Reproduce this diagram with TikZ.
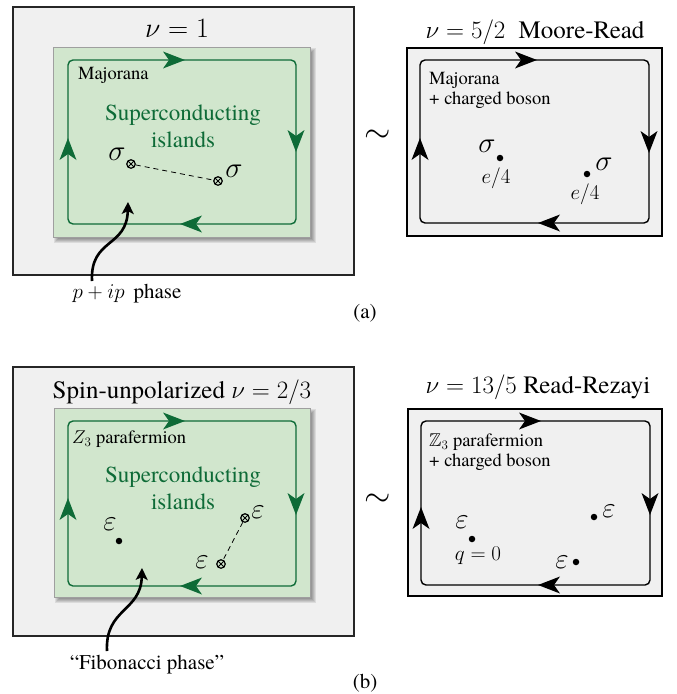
\documentclass[tikz,border=0pt]{standalone}
\usepackage{fix-cm}
\usepackage{amssymb}
\usepackage{fontspec}
\setmainfont{texgyretermes}[Extension=.otf, UprightFont=*-regular, BoldFont=*-bold, ItalicFont=*-italic, BoldItalicFont=*-bolditalic, Ligatures=TeX]
\usetikzlibrary{arrows.meta}
\definecolor{boxgray}{HTML}{F0F0F0}
\definecolor{islgreen}{HTML}{D1E6CD}
\definecolor{dkgreen}{HTML}{0E6B37}
\newcommand{\fsz}[1]{\fontsize{#1}{#1}\selectfont}
\newcommand{\softshadow}[4]{%
  \foreach \s in {0,1,2,3,4}{\fill[black, opacity=0.085] (#1+1+\s,#2+1+\s) rectangle (#3+6-\s,#4+6-\s);}}
% arrowheads: tip at (#1,#2), colour #3
\newcommand{\arR}[3]{\fill[#3] (#1,#2) -- ++(-22,-8.5) -- ++(6,8.5) -- ++(-6,8.5) -- cycle;}
\newcommand{\arL}[3]{\fill[#3] (#1,#2) -- ++(22,-8.5) -- ++(-6,8.5) -- ++(6,8.5) -- cycle;}
\newcommand{\arD}[3]{\fill[#3] (#1,#2) -- ++(-8.5,-22) -- ++(8.5,6) -- ++(8.5,-6) -- cycle;}
\newcommand{\arU}[3]{\fill[#3] (#1,#2) -- ++(-8.5,22) -- ++(8.5,-6) -- ++(8.5,6) -- cycle;}
\begin{document}
\begin{tikzpicture}[x=1pt,y=-1pt,
  outerbox/.style={draw=black!85, fill=boxgray, line width=1.2pt},
  rbox/.style={draw=black, fill=boxgray, line width=1.5pt},
  island/.style={draw=gray!75, fill=islgreen, line width=1pt},
  gloop/.style={draw=dkgreen, line width=1.4pt, rounded corners=5pt},
  bloop/.style={draw=black, line width=1.4pt, rounded corners=5pt},
  curvearrow/.style={black, line width=2.6pt, -{Stealth[length=12pt,width=12pt,inset=3pt]}},
  title/.style={inner sep=0pt, font=\fsz{25}},
  small/.style={inner sep=0pt, font=\fsz{18.5}, align=left, text depth=0pt},
  green text/.style={inner sep=0pt, text=dkgreen, font=\fontsize{23}{27}\selectfont, align=center},
  sym/.style={inner sep=0pt, font=\fsz{29}},
  chg/.style={inner sep=0pt, font=\fsz{21}},
  ot/.style={circle, draw=black, line width=1.2pt, inner sep=0pt, minimum size=8.5pt,
     path picture={\draw[line width=0.9pt] (path picture bounding box.north west) -- (path picture bounding box.south east)
       (path picture bounding box.north east) -- (path picture bounding box.south west);}},
  dot/.style={circle, fill=black, inner sep=0pt, minimum size=6.5pt},
  lab/.style={inner sep=0pt, font=\fsz{21}},
  tl/.style={inner sep=0pt, font=\fsz{34}},
  dsh/.style={dash pattern=on 5pt off 4pt, line width=0.8pt}
]
\useasboundingbox (0,0) rectangle (677,694);
\fill[white] (0,0) rectangle (677,694);

% ===== (a) =====
\draw[outerbox] (13,7) rectangle (354,275);
\softshadow{53}{47}{310}{237}
\draw[island] (53,47) rectangle (310,237);
\draw[gloop] (68,60) rectangle (296,224);
\arR{185}{60}{dkgreen}
\arD{296}{152}{dkgreen}
\arL{180}{224}{dkgreen}
\arU{68}{138}{dkgreen}

\node[title, font=\fsz{28}] (t1) at (177,28) {$\nu=1$};
\node[small, anchor=west] (m1) at (78,73) {Majorana};
\node[green text] (s1) at (183,126) {Superconducting\\islands};
\node[sym] (sa1) at (117,154) {$\sigma$};
\node[ot] (oa1) at (131,164) {};
\node[ot] (oa2) at (218,181) {};
\node[sym] (sa2) at (234,171) {$\sigma$};
\draw[dsh] (oa1) -- (oa2);
\node[lab] (pip) at (127,294) {$p+ip$\, phase};
\coordinate (c1) at (92,281);
\coordinate (c1t) at (128,202);
\draw[curvearrow] (c1) .. controls (90,238) and (127,248) .. (c1t);

\node[tl] (tilde1) at (378,136) {$\sim$};

\draw[rbox] (407,48) rectangle (662,236);
\draw[bloop] (420,60) rectangle (649,223);
\arR{537}{60}{black}
\arD{649}{153}{black}
\arL{538}{223}{black}
\arU{420}{138}{black}
\node[title] (t2) at (535,32) {$\nu=5/2$\; Moore-Read};
\node[small, anchor=west, font=\fontsize{18.5}{20}\selectfont] (m2) at (429,88) {Majorana\\+ charged boson};
\node[sym] (sb1) at (487,146) {$\sigma$};
\node[dot] (db1) at (500,158) {};
\node[chg] (eb1) at (496,178) {$e/4$};
\node[dot] (db2) at (587,174) {};
\node[sym] (sb2) at (604,164) {$\sigma$};
\node[chg] (eb2) at (585,194) {$e/4$};

\node[lab] (la) at (365,313) {(a)};

% ===== (b) =====
\draw[outerbox] (13,367) rectangle (354,636);
\softshadow{54}{408}{310}{597}
\draw[island] (54,408) rectangle (310,597);
\draw[gloop] (68,421) rectangle (296,586);
\arR{185}{421}{dkgreen}
\arD{296}{515}{dkgreen}
\arL{180}{586}{dkgreen}
\arU{68}{498}{dkgreen}

\node[title] (t3) at (182,392) {Spin-unpolarized $\nu=2/3$};
\node[small, anchor=west] (m3) at (72,437) {$Z_3$ parafermion};
\node[green text] (s3) at (183,488) {Superconducting\\islands};
\node[sym] (ec1) at (110,524) {$\varepsilon$};
\node[dot] (dc1) at (119,541) {};
\node[ot] (oc1) at (245,518) {};
\node[sym] (ec2) at (258,512) {$\varepsilon$};
\node[ot] (oc2) at (221,564) {};
\node[sym] (ec3) at (202,562) {$\varepsilon$};
\draw[dsh] (oc1) -- (oc2);
\node[lab] (fib) at (147,665) {``Fibonacci phase''};
\coordinate (c2) at (107,651);
\coordinate (c2t) at (142,568);
\draw[curvearrow] (c2) .. controls (105,608) and (141,612) .. (c2t);

\node[tl] (tilde2) at (378,500) {$\sim$};

\draw[rbox] (408,409) rectangle (662,596);
\draw[bloop] (421,421) rectangle (650,585);
\arR{541}{421}{black}
\arD{650}{515}{black}
\arL{538}{585}{black}
\arU{421}{507}{black}
\node[title] (t4) at (538,387) {$\nu=13/5$ Read-Rezayi};
\node[small, anchor=west, font=\fontsize{18.5}{20}\selectfont] (m4) at (429,450) {$\mathbb{Z}_3$ parafermion\\+ charged boson};
\node[sym] (ed1) at (462,522) {$\varepsilon$};
\node[dot] (dd1) at (472,539) {};
\node[chg] (qd) at (478,556) {$q=0$};
\node[dot] (dd2) at (594,517) {};
\node[sym] (ed2) at (609,511) {$\varepsilon$};
\node[sym] (ed3) at (562,562) {$\varepsilon$};
\node[dot] (dd3) at (576,562) {};

\node[lab] (lb) at (365,683) {(b)};
\end{tikzpicture}
\end{document}
